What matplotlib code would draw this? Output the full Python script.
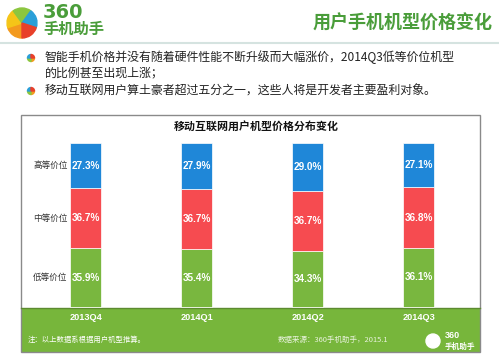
import matplotlib
matplotlib.use("Agg")
import matplotlib.pyplot as plt
from matplotlib.patches import Rectangle, Wedge, Circle
import numpy as np

plt.rcParams['font.family'] = ['Noto Sans CJK SC', 'DejaVu Sans']

categories = ['2013Q4', '2014Q1', '2014Q2', '2014Q3']
low = [35.9, 35.4, 34.3, 36.1]
mid = [36.7, 36.7, 36.7, 36.8]
high = [27.3, 27.9, 29.0, 27.1]
series_names = ['低等价位', '中等价位', '高等价位']

header_title = '用户手机机型价格变化'
chart_title = '移动互联网用户机型价格分布变化'
bullets = ['智能手机价格并没有随着硬件性能不断升级而大幅涨价，2014Q3低等价位机型\n的比例甚至出现上涨；',
           '移动互联网用户算土豪者超过五分之一，这些人将是开发者主要盈利对象。']
note = '注：以上数据系根据用户机型推算。'
source = '数据来源：360手机助手，2015.1'

C_BLUE = '#1f87d8'
C_RED = '#f64b50'
C_GREEN = '#79b73f'
C_BAND = '#77b63b'
C_HEAD = '#4a9d3a'
NUM_FONT = ['Liberation Sans', 'DejaVu Sans']

W, H = 499, 356
fig = plt.figure(figsize=(W / 100, H / 100), dpi=100)
fig.patch.set_facecolor('white')

def fx(px):
    return px / W

def fy(py):
    return 1 - py / H

# overlay axes in pixel coords for decorations
deco = fig.add_axes([0, 0, 1, 1])
deco.set_xlim(0, W)
deco.set_ylim(H, 0)
deco.axis('off')

# header logo (multicolour circle)
cols = ['#f39a1e', '#f5c518', '#8cc63f', '#2a9fd8', '#e8402a']
for i, c in enumerate(cols):
    deco.add_patch(Wedge((22, 23), 15, 90 + i * 72, 90 + (i + 1) * 72, color=c))
deco.text(43, 13, '360', fontsize=14, fontweight='bold', color=C_HEAD, va='center', ha='left',
          family=['DejaVu Sans'])
deco.text(43, 29, '手机助手', fontsize=11, fontweight='bold', color=C_HEAD, va='center', ha='left')

deco.text(493, 23, header_title, fontsize=13, fontweight='bold', color=C_HEAD, va='center', ha='right')
deco.plot([0, W], [43, 43], color='#d5e3e0', lw=1.5)

# bullets
for by in (58, 91):
    for i, c in enumerate(['#f39a1e', '#8cc63f', '#2a9fd8', '#e8402a']):
        deco.add_patch(Wedge((31, by), 3.5, i * 90, (i + 1) * 90, color=c))
deco.text(45, 65, bullets[0], fontsize=8.6, color='#222222', va='center', ha='left', linespacing=1.3)
deco.text(45, 91, bullets[1], fontsize=8.6, color='#222222', va='center', ha='left')

# chart frame and green band
deco.add_patch(Rectangle((21, 308), 459, 44, facecolor=C_BAND, edgecolor='none'))
deco.add_patch(Rectangle((21, 115), 459, 237, facecolor='none', edgecolor='#8a8a8a', lw=1.0))
deco.plot([21, 480], [308, 308], color='#5c8a30', lw=1.0)

deco.text(256, 126, chart_title, fontsize=7.9, fontweight='bold', color='#111111', va='center', ha='center')
deco.text(28, 340, note, fontsize=5.3, color='white', va='center', ha='left')
deco.text(278, 340, source, fontsize=5.4, color='#e8f2dc', va='center', ha='left')

# bottom-right logo
deco.add_patch(Circle((433, 341), 7, color='white'))
deco.text(445, 335, '360', fontsize=6.5, fontweight='bold', color='white', va='center', ha='left',
          family=NUM_FONT)
deco.text(445, 346, '手机助手', fontsize=5.5, fontweight='bold', color='white', va='center', ha='left')

# bar chart axes
ax = fig.add_axes([fx(21), fy(308), fx(459), (308 - 115) / H])
ax.patch.set_alpha(0)
for s in ax.spines.values():
    s.set_visible(False)
ax.set_xticks([])
ax.set_yticks([])

x = np.arange(len(categories))
ax.set_xlim(-64.5 / 111, (459 - 64.5) / 111)
ax.set_ylim(-1 / 1.64, 192 / 1.64)
bw = 31 / 111
ax.bar(x, low, bw, color=C_GREEN, edgecolor='white', linewidth=0.5)
ax.bar(x, mid, bw, bottom=low, color=C_RED, edgecolor='white', linewidth=0.5)
bottom3 = [a + b for a, b in zip(low, mid)]
ax.bar(x, high, bw, bottom=bottom3, color=C_BLUE, edgecolor='white', linewidth=0.5)

for i in range(len(categories)):
    for val, base in ((low[i], 0), (mid[i], low[i]), (high[i], bottom3[i])):
        ax.text(x[i], base + val / 2, f'{val:.1f}%', color='white', fontsize=7.2, fontweight='bold',
                ha='center', va='center', family=NUM_FONT)

# series labels left of first bar
lab_x = x[0] - bw / 2 - 0.02
for val, base, name in ((low[0], 0, series_names[0]), (mid[0], low[0], series_names[1]),
                        (high[0], bottom3[0], series_names[2])):
    ax.text(lab_x, base + val / 2, name, fontsize=6.2, color='#333333', ha='right', va='center')

# category labels in green band
for i, c in enumerate(categories):
    ax.text(x[i], -11 / 1.64, c, color='white', fontsize=6.6, fontweight='bold',
            ha='center', va='center', family=NUM_FONT, clip_on=False)

fig.savefig('out.png', dpi=100, facecolor='white')
